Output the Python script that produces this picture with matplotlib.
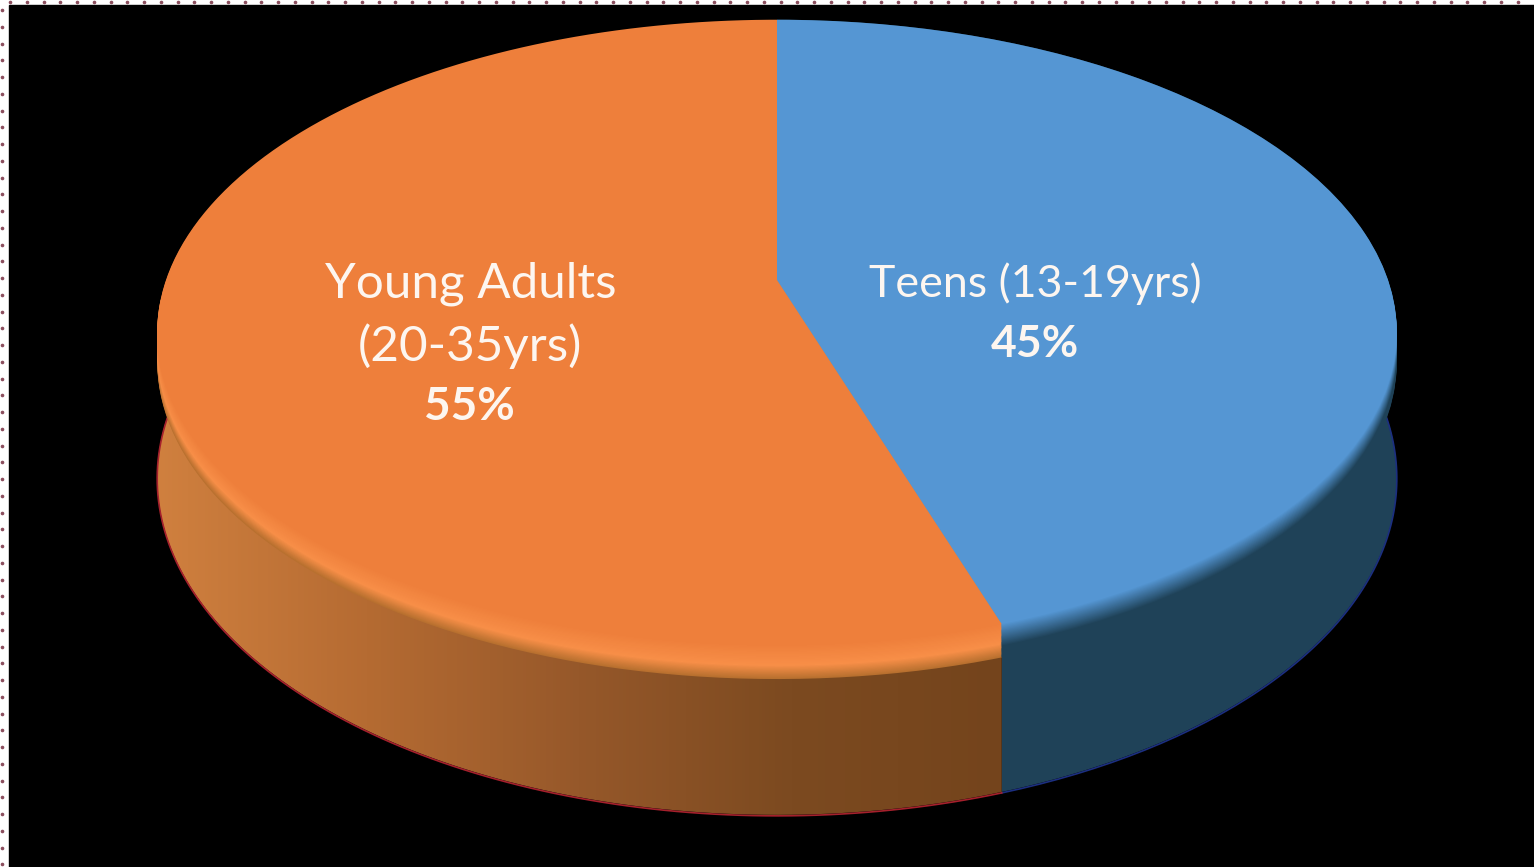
import numpy as np
import matplotlib
matplotlib.use("Agg")
import matplotlib.pyplot as plt
from matplotlib.colors import to_rgb, LinearSegmentedColormap
from matplotlib.path import Path
from matplotlib.patches import PathPatch
from matplotlib.transforms import Transform

# Data
labels = ["Teens (13-19yrs)", "Young Adults", "(20-35yrs)"]
shares = [45, 55]

# Colours
teen_face = "#5596d3"
teen_wall = "#1f4258"
adult_face = "#ee7f3b"
adult_bright = "#f88f48"
adult_rim = "#b8702f"
adult_wall = ["#d0803f", "#b56b32", "#96582a", "#7c4a20", "#74441c"]

# Geometry of the tilted disc, in pixels
RADIUS = 620.0
CX, APEX_Y = 777.0, 280.0
WIDE, TALL, TILT = 611.0, 304.0, 0.168
DEPTH = 141.0
BEVEL = 28


def project(x, y, lift=0.0):
    u = x / RADIUS
    v = y / RADIUS
    d = 1 + TILT * v
    return CX + WIDE * u / d, APEX_Y + (lift - TALL * v) / d


class Tilt(Transform):
    input_dims = output_dims = 2
    has_inverse = False

    def __init__(self, lift=0.0):
        super().__init__()
        self.lift = lift

    def transform_non_affine(self, values):
        px, py = project(values[:, 0], values[:, 1], self.lift)
        return np.column_stack([px, py])

    def transform_path_non_affine(self, path):
        # flatten the wedge first so the arc stays round after the tilt
        poly = path.to_polygons(closed_only=False)[0]
        return Path(self.transform_non_affine(poly))


def mix(a, b, t):
    a, b = np.array(to_rgb(a)), np.array(to_rgb(b))
    return tuple(a + (b - a) * t)


def tilted_pie(ax, colors, lift=0.0):
    wedges, _ = ax.pie(shares, colors=colors, radius=RADIUS, startangle=90,
                       counterclock=False, frame=True)
    for w in wedges:
        w.set_transform(Tilt(lift) + ax.transData)
        w.set_linewidth(0)
    return wedges


def wall_path(theta1, theta2):
    t = np.radians(np.linspace(theta1, theta2, 200))
    x = RADIUS * np.cos(t)
    y = RADIUS * np.sin(t)
    tx, ty = project(x, y, 0)
    bx, by = project(x, y, DEPTH)
    pts = np.column_stack([np.r_[tx, bx[::-1]], np.r_[ty, by[::-1]]])
    return Path(np.vstack([pts, pts[0]])), bx, by


fig = plt.figure(figsize=(15.34, 8.67), dpi=100, facecolor="white")
ax = fig.add_axes([0, 0, 1, 1])
ax.add_patch(plt.Rectangle((9, 5), 1530, 870, color="black", zorder=0))

# base pie, only to get the slice angles
base = tilted_pie(ax, [teen_wall, adult_rim], DEPTH)
for w in base:
    w.set_visible(False)
teen_angles = (base[0].theta1, base[0].theta2)
adult_angles = (base[1].theta1, base[1].theta2)

# side walls
teen_path, tx, ty = wall_path(*teen_angles)
ax.add_patch(PathPatch(teen_path, fc=teen_wall, ec="none", zorder=1))
ax.plot(tx, ty + 1, color="#1c2f80", lw=1.2, zorder=1)

adult_path, ax_x, ax_y = wall_path(*adult_angles)
cmap = LinearSegmentedColormap.from_list("wall", adult_wall)
img = ax.imshow(np.linspace(0, 1, 256).reshape(1, -1), cmap=cmap, aspect="auto",
                extent=(155, ax_x.max() + 2, 860, 300), zorder=1)
img.set_clip_path(PathPatch(adult_path, transform=ax.transData))
ax.plot(ax_x, ax_y + 1, color="#a5202c", lw=1.2, zorder=1)

# bevel and face, stacked from the wall upwards
for lift in np.arange(BEVEL, -1, -1.0):
    if lift > 19:
        blue = teen_wall
    else:
        blue = mix(teen_face, teen_wall, lift / 19)
    if lift > 17:
        orange = mix(adult_bright, adult_rim, (lift - 17) / 11)
    else:
        orange = mix(adult_face, adult_bright, lift / 17)
    for w in tilted_pie(ax, [blue, orange], lift):
        w.set_zorder(2)

# labels
text_color = "#fdf6f0"
font = ["Lato", "DejaVu Sans"]
ax.text(1035, 284, labels[0], color=text_color, fontsize=32.2, family=font,
        ha="center", va="center", zorder=5)
ax.text(1035, 344, f"{shares[0]}%", color=text_color, fontsize=32, family=font,
        fontweight="bold", ha="center", va="center", zorder=5)
ax.text(471, 284, labels[1], color=text_color, fontsize=35.6, family=font,
        ha="center", va="center", zorder=5)
ax.text(470, 346, labels[2], color=text_color, fontsize=35.6, family=font,
        ha="center", va="center", zorder=5)
ax.text(469, 407, f"{shares[1]}%", color=text_color, fontsize=33, family=font,
        fontweight="bold", ha="center", va="center", zorder=5)

# dotted selection border
top_dots = np.arange(10, 1534, 16.75)
left_dots = np.arange(10, 867, 16.75)
ax.plot(top_dots, np.full_like(top_dots, 2), ls="none", marker="o", ms=1.6,
        color="#8c4f5e", zorder=6)
ax.plot(np.full_like(left_dots, 2), left_dots, ls="none", marker="o", ms=1.6,
        color="#8c4f5e", zorder=6)

ax.set_aspect("auto")
ax.set_xlim(0, 1534)
ax.set_ylim(867, 0)
ax.axis("off")

fig.savefig("out.png", dpi=100, facecolor="white")
